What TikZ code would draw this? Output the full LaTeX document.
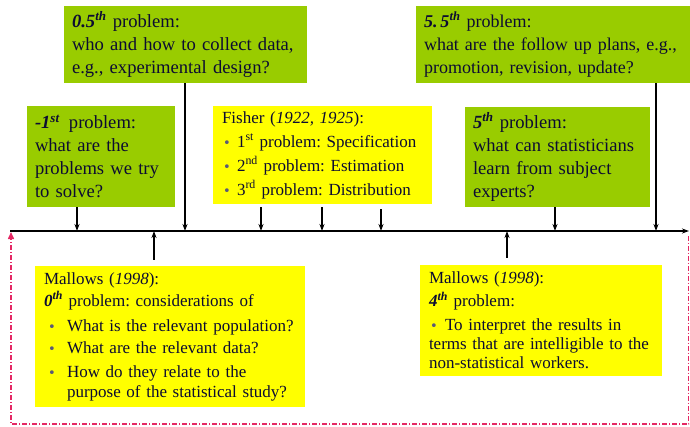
\documentclass[tikz,border=0pt]{standalone}
\usepackage{fontspec}
\setmainfont{Liberation Serif}
\newfontfamily\dejavu{DejaVu Sans}
\usetikzlibrary{arrows.meta}
\frenchspacing
\definecolor{boxgreen}{RGB}{153,204,0}
\definecolor{boxyellow}{RGB}{255,255,0}
\definecolor{txt}{RGB}{12,12,50}
\definecolor{bulgray}{RGB}{90,90,120}
\definecolor{framered}{RGB}{228,40,100}
\newcommand{\bul}[1]{\makebox[#1][l]{\textcolor{bulgray}{\dejavu\fontsize{13}{13}\selectfont •}}}
\newcommand{\bi}[1]{\textbf{\textit{#1}}}
\tikzset{
  gbox/.style={fill=boxgreen, draw=none, text=txt, inner xsep=8pt, inner ysep=0pt, align=left,
    font=\fontsize{18.6}{23}\selectfont},
  ybox/.style={fill=boxyellow, draw=none, text=txt, inner xsep=9pt, inner ysep=0pt, align=left,
    font=\fontsize{17}{20}\selectfont},
  conn/.style={black, line width=1.2pt, -{Stealth[length=7pt,width=5pt]}},
}
\begin{document}
\begin{tikzpicture}[x=1pt,y=-1pt]
\useasboundingbox (0,0) rectangle (690,426);
% green boxes
\node[gbox, minimum width=243pt, minimum height=77pt, text width=227pt] (half) at (185.5,44.5)
  {\bi{0.5\textsuperscript{th}} problem:\\who and how to collect data,\\e.g., experimental design?};
\node[gbox, minimum width=148pt, minimum height=101pt, text width=132pt] (neg) at (101,156.5)
  {\bi{-1\textsuperscript{st}}\, problem:\\what are the\\problems we try\\to solve?};
\node[gbox, minimum width=274pt, minimum height=77pt, text width=258pt, font=\fontsize{18}{23}\selectfont] (fivehalf) at (553,44.5)
  {\bi{5.\,5\textsuperscript{th}} problem:\\what are the follow up plans, e.g.,\\promotion, revision, update?};
\node[gbox, minimum width=185pt, minimum height=100pt, text width=169pt] (five) at (557.5,157)
  {\bi{5\textsuperscript{th}} problem:\\what can statisticians\\learn from subject\\experts?};
% yellow boxes
\node[ybox, minimum width=219pt, minimum height=98pt, text width=201pt, font=\fontsize{17}{24}\selectfont] (fisher) at (322.5,155)
  {Fisher (\textit{1922, 1925}):\\
   \hspace*{1pt}\bul{14pt}1\textsuperscript{st} problem: Specification\\
   \hspace*{1pt}\bul{14pt}2\textsuperscript{nd} problem: Estimation\\
   \hspace*{1pt}\bul{14pt}3\textsuperscript{rd} problem: Distribution};
\node[ybox, minimum width=270pt, minimum height=141pt, text width=252pt] (mal0) at (170,336.5)
  {Mallows (\textit{1998}):\\[2pt]
   \bi{0\textsuperscript{th}} problem: considerations of\\[5pt]
   \hspace*{4pt}\bul{19pt}What is the relevant population?\\[2pt]
   \hspace*{4pt}\bul{19pt}What are the relevant data?\\[4pt]
   \hspace*{4pt}\bul{19pt}How do they relate to the\\
   \hspace*{23pt}purpose of the statistical study?};
\node[ybox, minimum width=242pt, minimum height=111pt, text width=224pt, font=\fontsize{17}{19}\selectfont] (mal4) at (541,320.5)
  {Mallows (\textit{1998}):\\[4pt]
   \bi{4\textsuperscript{th}} problem:\\[5pt]
   \hspace*{1pt}\bul{15pt}To interpret the results in\\
   terms that are intelligible to the\\
   non-statistical workers.};
% timeline
\coordinate (tl0) at (10,231);
\coordinate (tl1) at (689,231);
\draw[conn] (tl0) -- (tl1);
% down arrows
\coordinate (aneg) at (77,231);
\coordinate (ahalf) at (185,231);
\coordinate (af1) at (261,231);
\coordinate (af2) at (322,231);
\coordinate (af3) at (381,231);
\coordinate (afive) at (555,231);
\coordinate (afh) at (656,231);
\coordinate (am0) at (154,231);
\coordinate (am4) at (507,231);
\draw[conn] (neg.south -| aneg) -- (aneg);
\draw[conn] (half.south -| ahalf) -- (ahalf);
\draw[conn] ([yshift=-3pt]fisher.south -| af1) -- (af1);
\draw[conn] ([yshift=-3pt]fisher.south -| af2) -- (af2);
\draw[conn] ([yshift=-5pt]fisher.south -| af3) -- (af3);
\draw[conn] (five.south -| afive) -- (afive);
\draw[conn] (fivehalf.south -| afh) -- (afh);
\draw[conn] ([yshift=6pt]mal0.north -| am0) -- (am0);
\draw[conn] ([yshift=7pt]mal4.north -| am4) -- (am4);
% feedback frame
\coordinate (fr0) at (688.5,236);
\coordinate (fr1) at (688.5,424);
\coordinate (fr2) at (11,424);
\coordinate (fr3) at (11,232);
\draw[framered, line width=1.5pt, dash pattern=on 4.5pt off 2pt on 1.5pt off 2pt,
  -{Triangle[length=7pt,width=6pt]}] (fr0) -- (fr1) -- (fr2) -- (fr3);
\end{tikzpicture}
\end{document}
